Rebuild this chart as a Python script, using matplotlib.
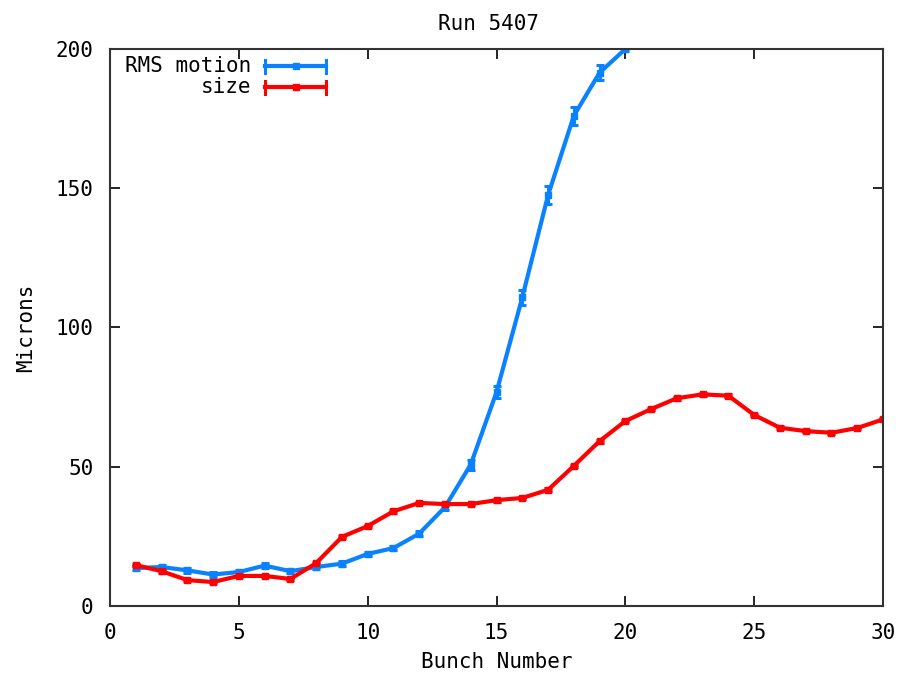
"""
Run 5407: RMS motion and beam size per bunch, gnuplot-like look.
"""

import matplotlib
matplotlib.use("Agg")
import matplotlib.pyplot as plt

# Bunch numbers
bunch_rms = list(range(1, 21))
bunch_size = list(range(1, 31))

# RMS motion (microns)
rms_motion = [13.6, 14.0, 12.8, 11.3, 12.2, 14.5, 12.5, 14.0, 15.2, 18.7,
              20.8, 26.0, 35.5, 50.8, 76.8, 110.8, 147.5, 176.0, 191.5, 200.0]
rms_err = [0.8, 0.8, 0.8, 0.8, 0.8, 0.8, 0.8, 0.8, 0.8, 0.8,
           0.8, 1.0, 1.2, 1.8, 2.2, 2.8, 3.2, 3.2, 2.8, 0.8]

# Beam size (microns)
beam_size = [14.7, 12.5, 9.3, 8.6, 10.8, 10.8, 9.7, 15.4, 24.8, 28.7,
             34.0, 37.0, 36.6, 36.6, 38.0, 38.8, 41.7, 50.3, 59.2, 66.4,
             70.7, 74.6, 76.0, 75.5, 68.6, 64.0, 62.8, 62.2, 63.9, 67.0]
size_err = [0.5] * 30

x_ticks = [0, 5, 10, 15, 20, 25, 30]
y_ticks = [0, 50, 100, 150, 200]

BLUE = "#0a82ff"
RED = "#ff0000"
FONT = "DejaVu Sans Mono"
FS = 15

plt.rcParams["font.family"] = FONT
plt.rcParams["font.size"] = FS

fig = plt.figure(figsize=(8.99, 6.74), dpi=100)
ax = fig.add_axes([0.1224, 0.1009, 0.8598, 0.8264])

for xs, ys, es, col in [(bunch_rms, rms_motion, rms_err, BLUE),
                        (bunch_size, beam_size, size_err, RED)]:
    ax.errorbar(xs, ys, yerr=es, color=col, linewidth=3.0,
                marker="s", markersize=4.5, capsize=3, capthick=2.2,
                elinewidth=2.2, clip_on=True)

ax.set_xlim(0, 30)
ax.set_ylim(0, 200)
ax.set_xticks(x_ticks)
ax.set_yticks(y_ticks)
ax.tick_params(direction="in", length=7, width=1.2, top=True, right=True,
               labelsize=FS, pad=12)
for sp in ax.spines.values():
    sp.set_linewidth(1.5)
    sp.set_color("#333333")

ax.set_title("Run 5407", fontsize=FS, pad=0, y=1.035, x=0.49)
ax.set_xlabel("Bunch Number", fontsize=FS, labelpad=7)
ax.set_ylabel("Microns", fontsize=FS, labelpad=14)

# gnuplot-style key in the top left corner
key_rows = [("RMS motion", BLUE, 0.969), ("size", RED, 0.931)]
for label, col, yk in key_rows:
    ax.text(0.183, yk, label, transform=ax.transAxes, ha="right",
            va="center", fontsize=FS)
    ax.plot([0.201, 0.280], [yk, yk], transform=ax.transAxes,
            color=col, linewidth=3.0, clip_on=False)
    ax.plot([0.240], [yk], transform=ax.transAxes, color=col,
            marker="s", markersize=4.5, clip_on=False)
    for xe in (0.201, 0.280):
        ax.plot([xe, xe], [yk - 0.012, yk + 0.012], transform=ax.transAxes,
                color=col, linewidth=2.2, clip_on=False)

fig.savefig("out.png", dpi=100)
